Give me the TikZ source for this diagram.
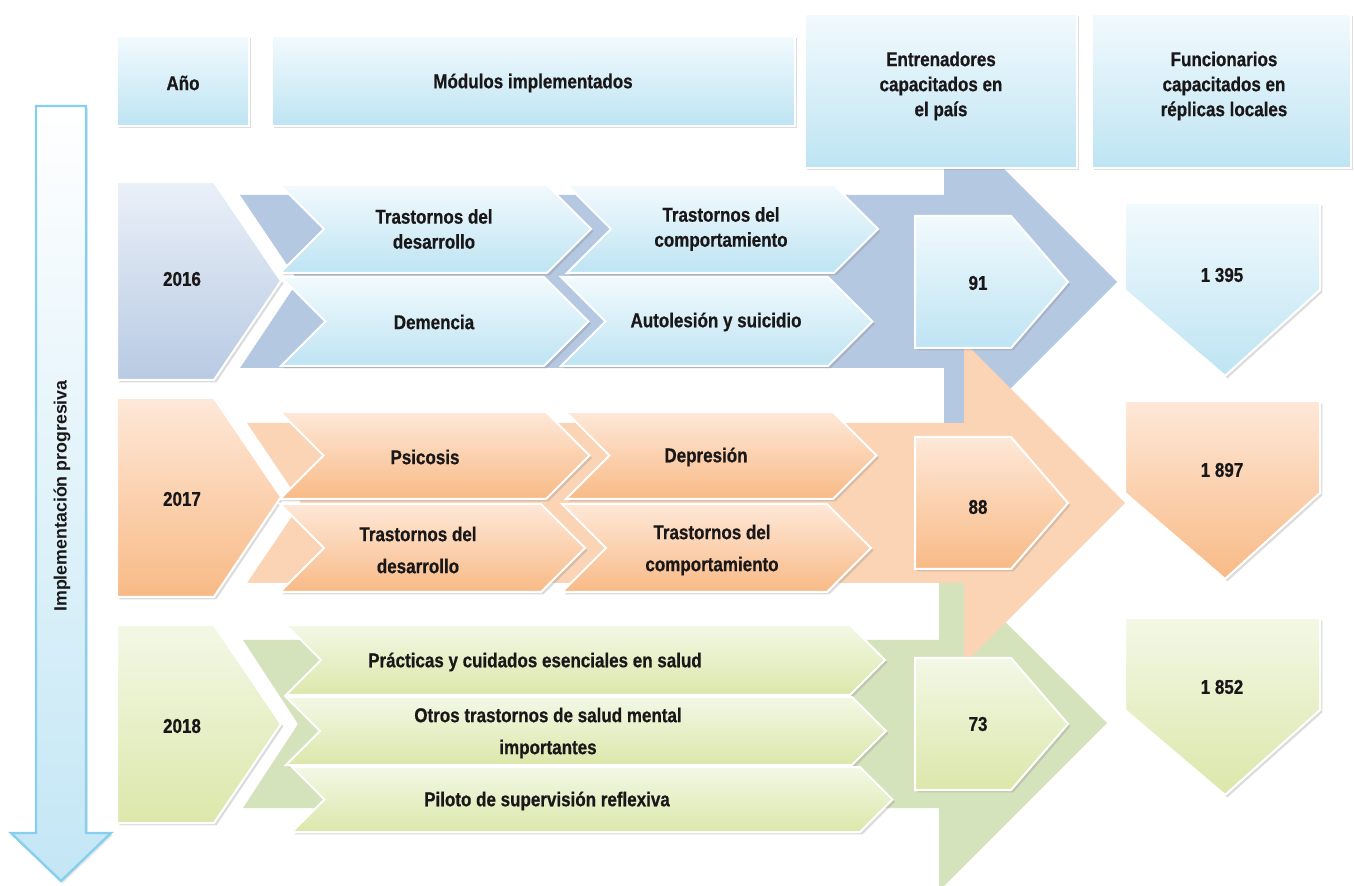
\documentclass[tikz,border=0pt]{standalone}
\usepackage{fontspec}
\newfontfamily\narrowsf{Liberation Sans}[FakeStretch=0.85, BoldFeatures={FakeBold=0.6}]
\newfontfamily\plainsf{Liberation Sans}
\usetikzlibrary{shadows}

\definecolor{hdrtop}{HTML}{F2FAFD}
\definecolor{hdrbot}{HTML}{BEE4F3}
\definecolor{bluetop}{HTML}{EAF0F8}
\definecolor{bluebot}{HTML}{B8CAE3}
\definecolor{blueband}{HTML}{B5C8E1}
\definecolor{oratop}{HTML}{FEE8D8}
\definecolor{orabot}{HTML}{F8BA86}
\definecolor{oraband}{HTML}{FAD4B4}
\definecolor{grntop}{HTML}{F3F8E6}
\definecolor{grnbot}{HTML}{DCE7AA}
\definecolor{grnband}{HTML}{D5E3BD}
\definecolor{arrowline}{HTML}{86CFEE}
\definecolor{arrowbot}{HTML}{C3E6F5}
\definecolor{inktext}{HTML}{1A1718}

% chevron: [style]{left}{top}{right corner}{bottom}
\newcommand{\chev}[5][]{%
  \path[#1] (#2,#3) -- (#4,#3) -- ({#4+(#5-#3)/2},{(#3+#5)/2}) -- (#4,#5)
    -- (#2,#5) -- ({#2+(#5-#3)/2},{(#3+#5)/2}) -- cycle;}

\begin{document}
\begin{tikzpicture}[x=0.5pt, y=-0.5pt,
  panel/.style 2 args={top color=#1, bottom color=#2, draw=white, line width=1pt,
                       drop shadow={shadow xshift=1.2pt, shadow yshift=-1.2pt,
                                    opacity=.28}},
  hdrbox/.style={panel={hdrtop}{hdrbot}},
  modblue/.style={panel={hdrtop}{hdrbot}},
  modorange/.style={panel={oratop}{orabot}},
  modgreen/.style={panel={grntop}{grnbot}},
  label/.style={font=\narrowsf\bfseries\fontsize{10}{12.5}\selectfont,
                text=inktext, align=center}
]
\useasboundingbox (0,0) rectangle (1354,886);
\clip (0,0) rectangle (1354,886);

% background arrows of the three years
\path[fill=blueband] (240,195) -- (944,195) -- (944,109) -- (1117,282) -- (944,455)
  -- (944,368) -- (240,368) -- (298,281) -- cycle;
\path[fill=grnband] (243,640) -- (939,640) -- (939,556) -- (1107,723) -- (939,891)
  -- (939,808) -- (243,808) -- (298,724) -- cycle;
\path[fill=oraband] (247,423) -- (964,423) -- (964,342) -- (1125,503) -- (964,664)
  -- (964,583) -- (247,583) -- (301,503) -- cycle;

% progress arrow
\path[top color=white, bottom color=arrowbot, draw=arrowline, line width=1.2pt,
      drop shadow={shadow xshift=1pt, shadow yshift=-1pt, opacity=.2}]
  (36,106) -- (86,106) -- (86,833) -- (111,833) -- (61,881) -- (11,833)
  -- (36,833) -- cycle;
\node[font=\plainsf\bfseries\fontsize{8.9}{10}\selectfont, text=inktext,
      rotate=90] (progress) at (62,496) {Implementación progresiva};

% 2016
\path[panel={bluetop}{bluebot}] (117,182) -- (214,182) -- (281,281) -- (214,380)
  -- (117,380) -- cycle;
\chev[modblue]{280}{185}{547}{273}
\chev[modblue]{567}{185}{834}{273}
\chev[modblue]{281}{277}{544}{366}
\chev[modblue]{561}{277}{828}{366}
\path[modblue] (915,216) -- (1011,216) -- (1068,282) -- (1011,348) -- (915,348) -- cycle;
\path[modblue] (1125,203) -- (1320,203) -- (1320,290) -- (1225,376) -- (1125,290) -- cycle;
\node[label] (y2016) at (182,279) {2016};
\node[label] (m16a) at (434,229) {Trastornos del\\desarrollo};
\node[label] (m16b) at (721,229) {Trastornos del\\comportamiento};
\node[label] (m16c) at (434,322) {Demencia};
\node[label] (m16d) at (716,322) {Autolesión y suicidio};
\node[label] (t2016) at (978,283) {91};
\node[label] (f2016) at (1222,275) {1 395};

% 2017
\path[panel={oratop}{orabot}] (117,398) -- (214,398) -- (281,497) -- (214,597)
  -- (117,597) -- cycle;
\chev[modorange]{280}{412}{546}{499}
\chev[modorange]{566}{412}{833}{499}
\chev[modorange]{280}{504}{541}{592}
\chev[modorange]{562}{504}{827}{592}
\path[modorange] (915,437) -- (1011,437) -- (1068,503) -- (1011,569) -- (915,569) -- cycle;
\path[modorange] (1125,401) -- (1320,401) -- (1320,493) -- (1225,579) -- (1125,493) -- cycle;
\node[label] (y2017) at (182,499) {2017};
\node[label] (m17a) at (425,457) {Psicosis};
\node[label] (m17b) at (706,457) {Depresión};
\node[label] (m17c) at (418,550) {Trastornos del\\[3.5pt]desarrollo};
\node[label] (m17d) at (712,550) {Trastornos del\\[3.5pt]comportamiento};
\node[label] (t2017) at (978,507) {88};
\node[label] (f2017) at (1222,470) {1 897};

% 2018
\path[panel={grntop}{grnbot}] (117,625) -- (214,625) -- (281,724) -- (214,823)
  -- (117,823) -- cycle;
\chev[modgreen]{286}{625}{850}{695}
\chev[modgreen]{286}{697}{852}{765}
\chev[modgreen]{292}{767}{860}{832}
\path[modgreen] (915,658) -- (1011,658) -- (1068,724) -- (1011,790) -- (915,790) -- cycle;
\path[modgreen] (1125,618) -- (1320,618) -- (1320,710) -- (1225,795) -- (1125,710) -- cycle;
\node[label] (y2018) at (182,726) {2018};
\node[label] (m18a) at (535,662) {Prácticas y cuidados esenciales en salud};
\node[label] (m18b) at (548,733) {Otros trastornos de salud mental\\[3.5pt]importantes};
\node[label] (m18c) at (547,801) {Piloto de supervisión reflexiva};
\node[label] (t2018) at (978,724) {73};
\node[label] (f2018) at (1222,687) {1 852};

% column headers
\path[hdrbox] (117,36) rectangle (249,126);
\path[hdrbox] (272,36) rectangle (795,126);
\path[hdrbox] (805,14) rectangle (1077,168);
\path[hdrbox] (1092,14) rectangle (1351,168);
\node[label] (hyear) at (183,83) {Año};
\node[label] (hmods) at (533,83) {Módulos implementados};
\node[label] (htrain) at (941,86) {Entrenadores\\capacitados en\\el país};
\node[label] (hstaff) at (1224,86) {Funcionarios\\capacitados en\\réplicas locales};
\end{tikzpicture}
\end{document}
